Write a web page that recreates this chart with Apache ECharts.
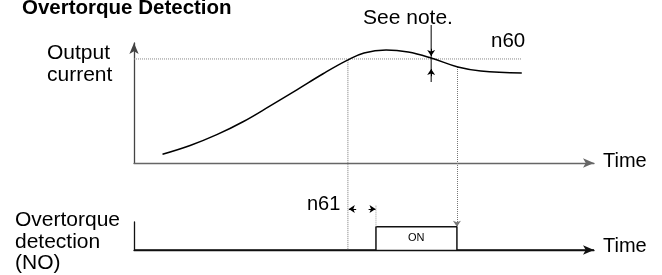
<!DOCTYPE html>
<html>
<head>
<meta charset="utf-8">
<script src="https://cdn.jsdelivr.net/npm/echarts@6/dist/echarts.min.js"></script>
<style>
  html, body { margin: 0; padding: 0; background: #fff; }
  #chart { width: 662px; height: 275px; }
</style>
</head>
<body>
<div id="chart"></div>
<script>
// output current curve (time 0-100, current 0-100)
const curveTime = [6.2, 12.2, 18.0, 23.8, 29.6, 35.4, 41.2, 46.2, 50.0, 54.8, 59.6, 64.6, 70.4, 75.4, 84.3]
const curveCurrent = [7.3, 14.6, 23.6, 34.6, 47.6, 61.0, 74.6, 85.3, 91.7, 94.2, 92.5, 87.5, 80.0, 76.7, 75.0]

// n60 detection level
const n60Level = 86.7
const n60End = 84.3

// timing points
const n61Start = 46.5      // current goes over n60
const onStart = 52.6       // output turns on after n61
const onEnd = 70.2         // output turns off
const curveAtStart = 86.0
const curveAtEnd = 80.0

// overtorque output signal (0 = off, 1 = on)
const signalTime = [0, onStart, onStart, onEnd, onEnd, 100]
const signalValue = [0, 0, 1, 1, 0, 0]

// "See note." marker
const noteTime = 64.6
const noteTop = 115
const noteBottom = 67.5
const noteDownTip = 89.2
const noteUpTip = 78.3

// n61 interval marks (signal units)
const n61Mark = 1.76
const n61MarkTop = 1.93

const font = '"Liberation Sans", Arial, sans-serif'
const chart = echarts.init(document.getElementById('chart'))

const axisCommon = (color, withArrow) => ({
    type: 'value',
    axisLine: {
        show: true,
        symbol: withArrow ? ['none', 'arrow'] : 'none',
        symbolSize: [7, 11],
        lineStyle: { color: color, width: 1.3 }
    },
    axisTick: { show: false },
    axisLabel: { show: false },
    splitLine: { show: false }
})

// y is the text baseline
const txt = (text, x, y, size, weight) => ({
    type: 'text',
    x: x,
    y: y - size * 0.34,
    style: {
        text: text,
        font: (weight || 'normal') + ' ' + size + 'px ' + font,
        fill: '#000',
        verticalAlign: 'middle'
    }
})

const arrowLines = (id, xi, yi, list) => ({
    id: id,
    type: 'lines',
    coordinateSystem: 'cartesian2d',
    xAxisIndex: xi,
    yAxisIndex: yi,
    clip: false,
    symbol: ['none', 'arrow'],
    symbolSize: 6,
    lineStyle: { color: '#000', width: 1, opacity: 1 },
    data: list.map(c => ({ coords: c })),
    z: 5
})

chart.setOption({
    animation: false,
    grid: [
        { left: 134, right: 68, top: 43, height: 120 },
        { left: 134, right: 68, top: 222, height: 28 }
    ],
    xAxis: [
        Object.assign(axisCommon('#666', true), { gridIndex: 0, min: 0, max: 100 }),
        Object.assign(axisCommon('#111', true), { gridIndex: 1, min: 0, max: 100 })
    ],
    yAxis: [
        Object.assign(axisCommon('#444', true), { gridIndex: 0, min: 0, max: 100 }),
        Object.assign(axisCommon('#111', false), { gridIndex: 1, min: 0, max: 1.2 })
    ],
    graphic: [
        txt('Overtorque Detection', 22, 15, 20.5, 'bold'),
        txt('Output', 47, 60, 21),
        txt('current', 47, 82, 21),
        txt('See note.', 363, 25, 21),
        txt('n60', 491, 48, 20.5),
        txt('Time', 603, 168, 20),
        txt('n61', 307, 211, 20),
        txt('Overtorque', 15, 227, 21),
        txt('detection', 15, 249, 21),
        txt('(NO)', 15, 270, 21),
        txt('Time', 603, 253, 20),
        txt('ON', 408, 242, 11)
    ],
    series: [
        {
            id: 'current',
            type: 'line',
            xAxisIndex: 0,
            yAxisIndex: 0,
            smooth: 0.4,
            showSymbol: false,
            lineStyle: { color: '#000', width: 1.5 },
            data: curveTime.map((t, i) => [t, curveCurrent[i]]),
            z: 4
        },
        {
            id: 'n60',
            type: 'line',
            xAxisIndex: 0,
            yAxisIndex: 0,
            showSymbol: false,
            lineStyle: { color: '#888', width: 1, type: 'dotted' },
            data: [[0, n60Level], [n60End, n60Level]]
        },
        {
            id: 'note',
            type: 'line',
            xAxisIndex: 0,
            yAxisIndex: 0,
            clip: false,
            showSymbol: false,
            lineStyle: { color: '#000', width: 1 },
            data: [[noteTime, noteTop], [noteTime, noteBottom]]
        },
        arrowLines('noteArrows', 0, 0, [
            [[noteTime, noteDownTip + 6], [noteTime, noteDownTip]],
            [[noteTime, noteUpTip - 6], [noteTime, noteUpTip]]
        ]),
        {
            id: 'signal',
            type: 'line',
            xAxisIndex: 1,
            yAxisIndex: 1,
            showSymbol: false,
            lineStyle: { color: '#111', width: 1.5 },
            data: signalTime.map((t, i) => [t, signalValue[i]])
        },
        {
            id: 'n61Mark',
            type: 'line',
            xAxisIndex: 1,
            yAxisIndex: 1,
            clip: false,
            showSymbol: false,
            lineStyle: { color: '#999', width: 1, type: 'dotted' },
            data: [[onStart, 1], [onStart, n61MarkTop]]
        },
        arrowLines('n61Arrows', 1, 1, [
            [[n61Start + 1.8, n61Mark], [n61Start + 0.2, n61Mark]],
            [[onStart - 1.6, n61Mark], [onStart - 0.1, n61Mark]]
        ])
    ]
})

// vertical dotted connectors reach down into the lower chart
const yFromLower = v => chart.convertFromPixel({ yAxisIndex: 0 }, chart.convertToPixel({ yAxisIndex: 1 }, v))
const base = yFromLower(0)
const onTop = yFromLower(1)

chart.setOption({
    series: [
        {
            id: 'connectorStart',
            type: 'line',
            xAxisIndex: 0,
            yAxisIndex: 0,
            clip: false,
            showSymbol: false,
            lineStyle: { color: '#777', width: 1, type: 'dotted' },
            data: [[n61Start, curveAtStart], [n61Start, base]]
        },
        {
            id: 'connectorEnd',
            type: 'lines',
            coordinateSystem: 'cartesian2d',
            xAxisIndex: 0,
            yAxisIndex: 0,
            clip: false,
            symbol: ['none', 'arrow'],
            symbolSize: 6,
            lineStyle: { color: '#777', width: 1, type: 'dotted', opacity: 1 },
            data: [{ coords: [[onEnd, curveAtEnd], [onEnd, onTop]] }]
        }
    ]
})
</script>
</body>
</html>
